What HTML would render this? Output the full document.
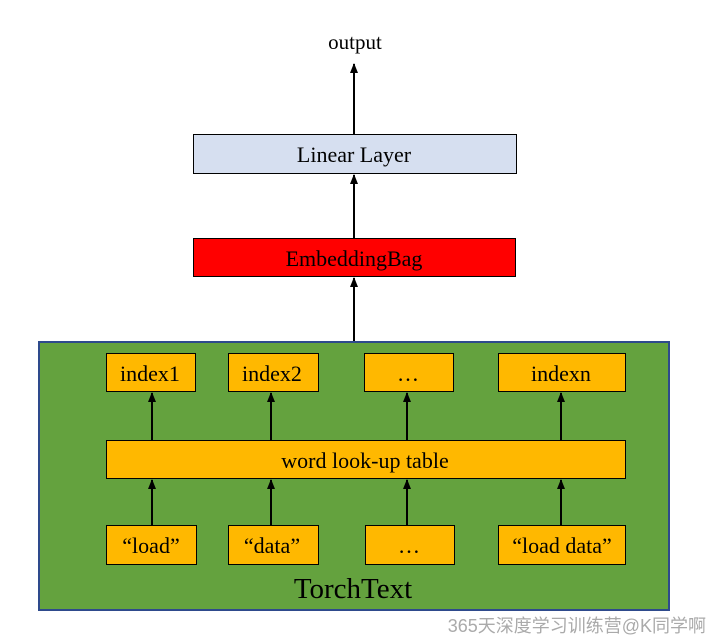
<!DOCTYPE html>
<html><head><meta charset="utf-8"><style>
html,body{margin:0;padding:0;background:#fff;width:713px;height:642px;overflow:hidden}
svg text{font-family:"Liberation Serif",serif;fill:#000}
</style></head><body>
<svg width="713" height="642" viewBox="0 0 713 642" xmlns="http://www.w3.org/2000/svg">
<defs><marker id="a" markerWidth="8" markerHeight="10" refX="4" refY="1" orient="0" markerUnits="userSpaceOnUse"><path d="M0,10 L4,0 L8,10 Z" fill="#000"/></marker></defs>
<text x="355" y="49" font-size="21" text-anchor="middle">output</text>
<line x1="354" y1="134" x2="354" y2="64" stroke="#000" stroke-width="2" marker-end="url(#a)"/>
<rect x="193.5" y="134.5" width="323" height="39" fill="#d6dff0" stroke="#000" stroke-width="1"/>
<text x="354" y="162" font-size="22" text-anchor="middle">Linear Layer</text>
<line x1="354" y1="238" x2="354" y2="175" stroke="#000" stroke-width="2" marker-end="url(#a)"/>
<rect x="193.5" y="238.5" width="322" height="38" fill="#ff0000" stroke="#000" stroke-width="1"/>
<text x="354" y="266" font-size="22" text-anchor="middle">EmbeddingBag</text>
<line x1="354" y1="342" x2="354" y2="278" stroke="#000" stroke-width="2" marker-end="url(#a)"/>
<rect x="39" y="342" width="630" height="268" fill="#64a23e" stroke="#2e4a8c" stroke-width="2"/>
<g stroke="#000" stroke-width="1" fill="#ffb800">
<rect x="106.5" y="353.5" width="89" height="38"/>
<rect x="228.5" y="353.5" width="90" height="38"/>
<rect x="364.5" y="353.5" width="89" height="38"/>
<rect x="498.5" y="353.5" width="127" height="38"/>
<rect x="106.5" y="440.5" width="519" height="38"/>
<rect x="106.5" y="525.5" width="90" height="39"/>
<rect x="228.5" y="525.5" width="90" height="39"/>
<rect x="365.5" y="525.5" width="89" height="39"/>
<rect x="498.5" y="525.5" width="127" height="39"/>
</g>
<g stroke="#000" stroke-width="2" marker-end="url(#a)">
<line x1="152" y1="440" x2="152" y2="393"/>
<line x1="271" y1="440" x2="271" y2="393"/>
<line x1="407" y1="440" x2="407" y2="393"/>
<line x1="561" y1="440" x2="561" y2="393"/>
<line x1="152" y1="525" x2="152" y2="480"/>
<line x1="271" y1="525" x2="271" y2="480"/>
<line x1="407" y1="525" x2="407" y2="480"/>
<line x1="561" y1="525" x2="561" y2="480"/>
</g>
<g font-size="22" text-anchor="middle">
<text x="150" y="381">index1</text>
<text x="272" y="381">index2</text>
<text x="408" y="381">…</text>
<text x="561" y="381">indexn</text>
<text x="365" y="468">word look-up table</text>
<text x="151" y="553">“load”</text>
<text x="272" y="553">“data”</text>
<text x="409" y="553">…</text>
<text x="562" y="553">“load data”</text>
</g>
<text x="353" y="598" font-size="29" text-anchor="middle">TorchText</text>
<text x="706" y="632" font-size="18" text-anchor="end" style="font-family:'Liberation Sans','Noto Sans CJK SC',sans-serif;fill:#aaa">365天深度学习训练营@K同学啊</text>
</svg>
</body></html>
